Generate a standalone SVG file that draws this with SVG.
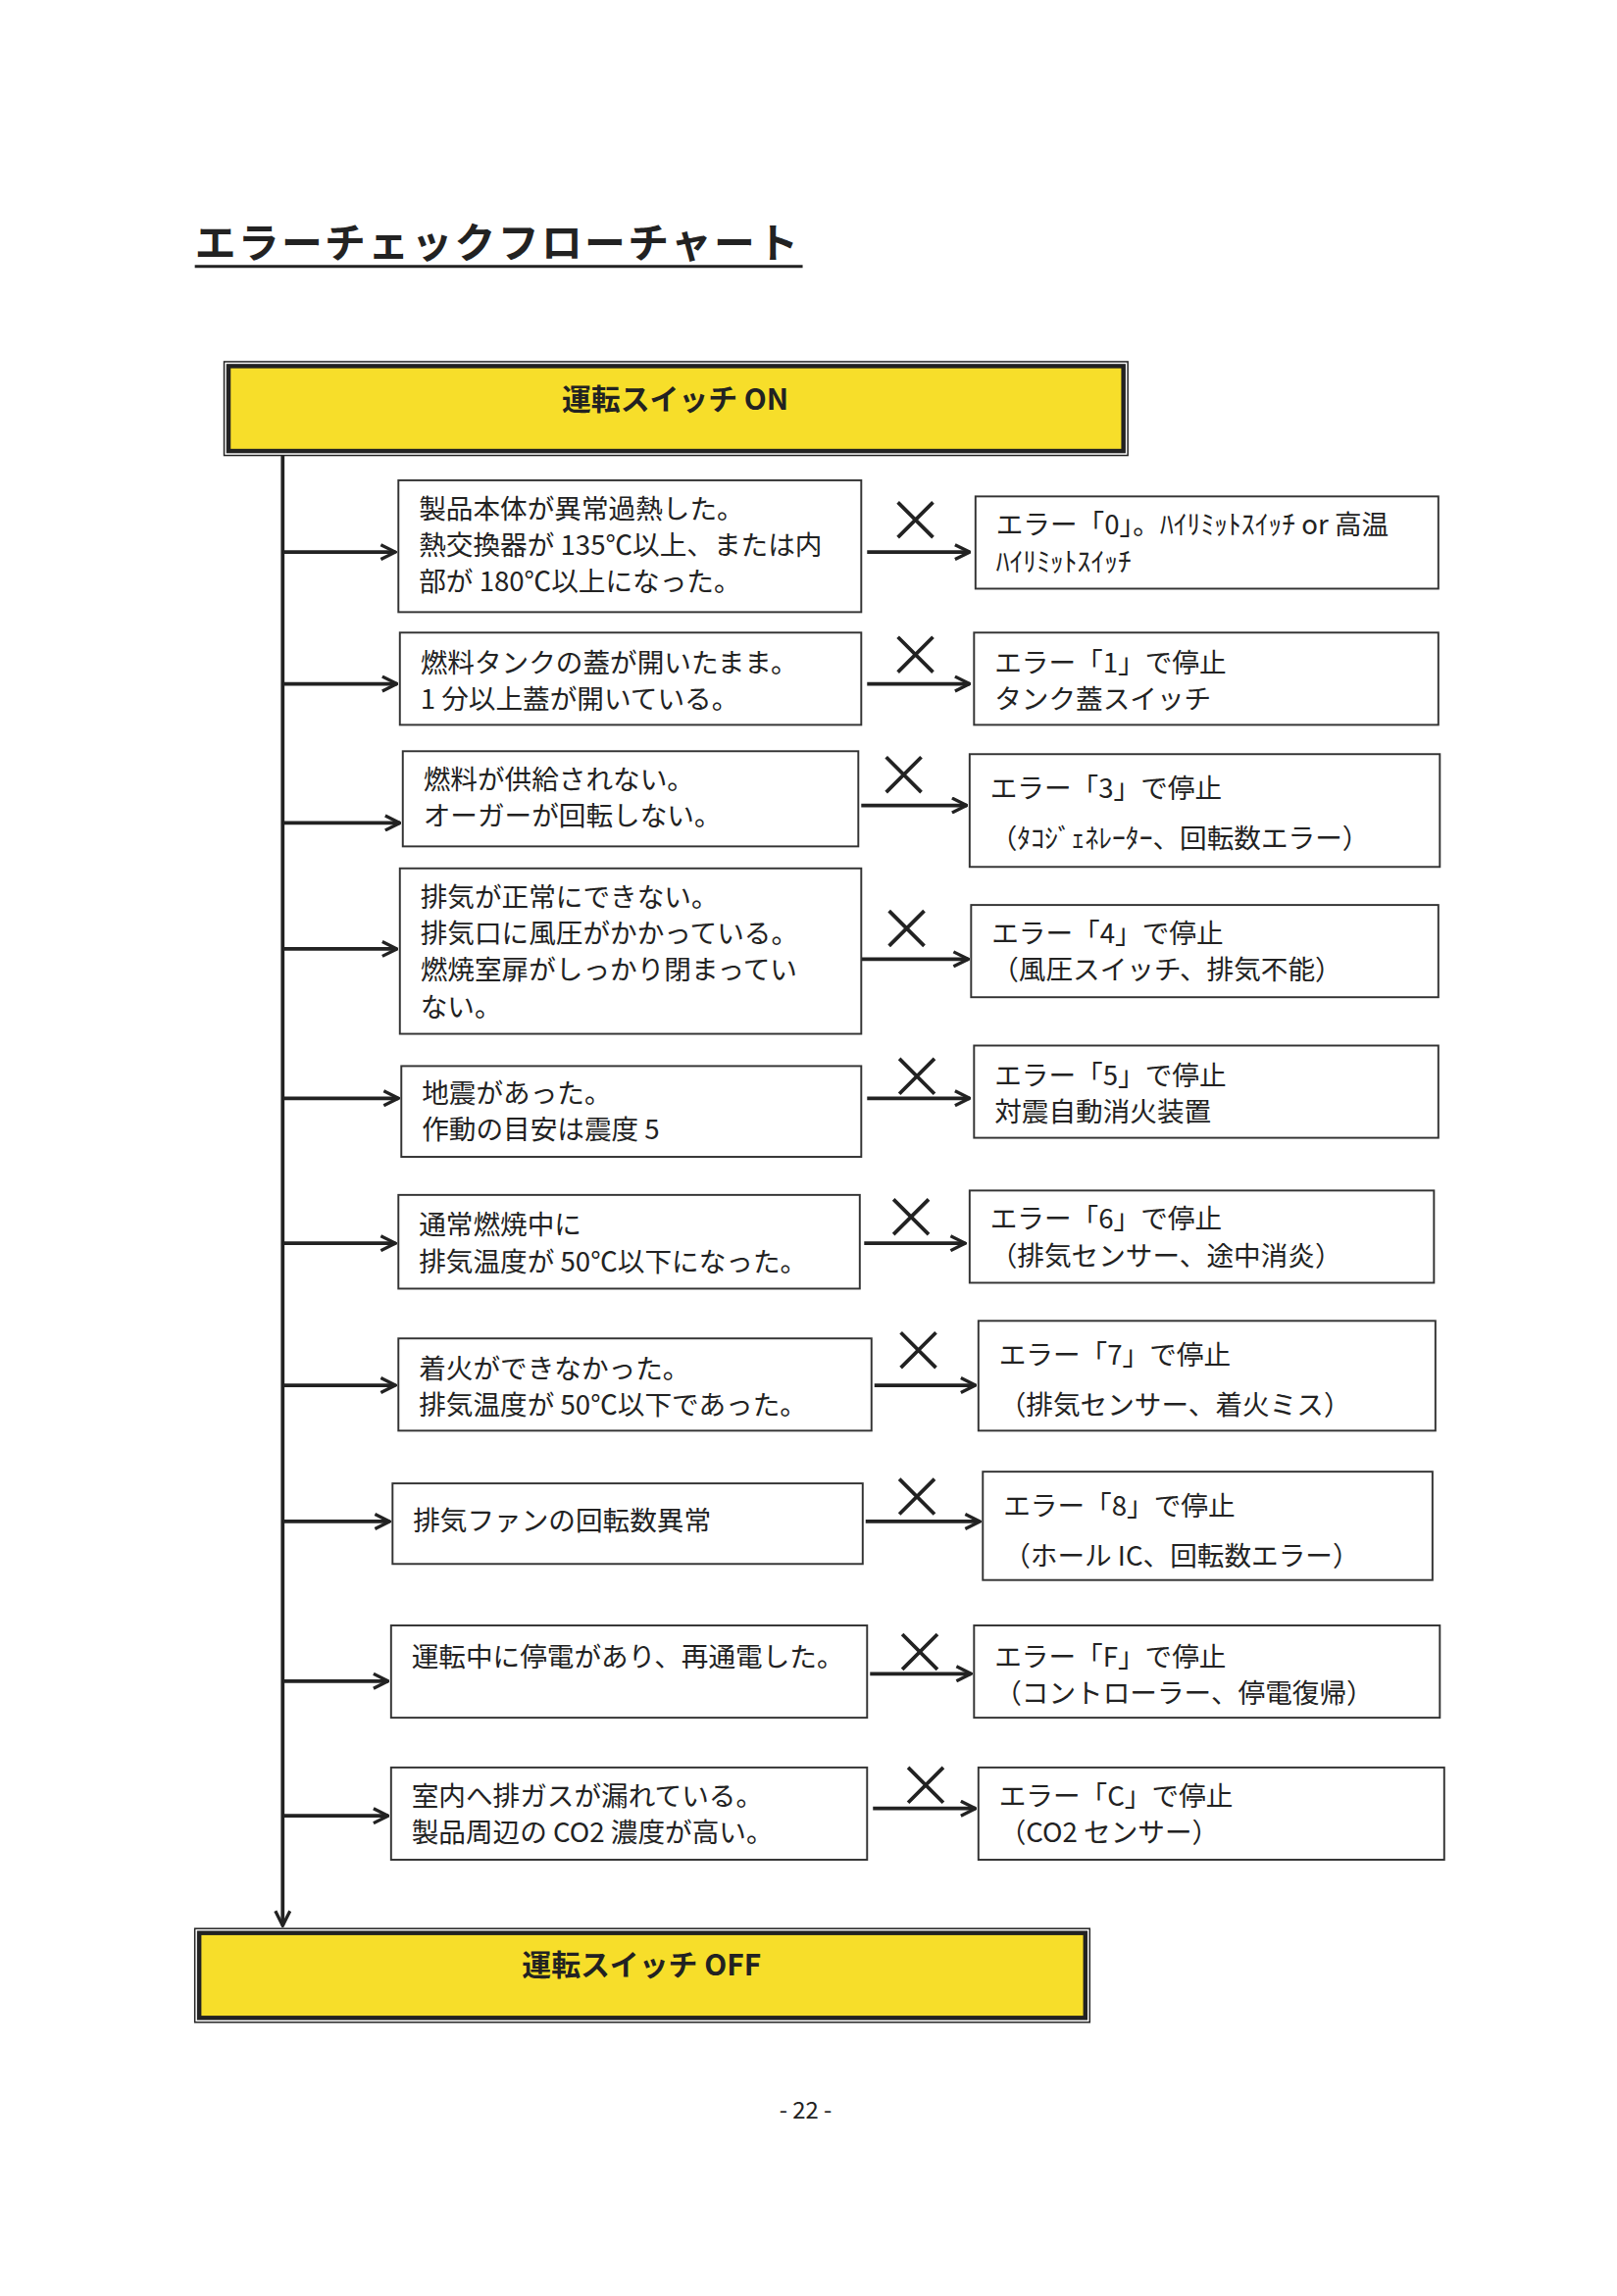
<svg xmlns="http://www.w3.org/2000/svg" width="1649" height="2342" viewBox="0 0 1649 2342">
<style>
text{font-family:"Noto Sans CJK JP","Noto Sans",sans-serif;fill:#222;font-size:18.5px}
.b{fill:#fff;stroke:#333;stroke-width:1.3}
.y{fill:#f7de2a;stroke:#222;stroke-width:3}
.l{stroke:#222;stroke-width:2.5;fill:none}
.x{stroke:#222;stroke-width:2.5}
.t{font-size:20px;font-weight:bold}
</style>
<defs><marker id="m" viewBox="0 0 12 12" refX="11" refY="6" markerWidth="12" markerHeight="12" orient="auto" markerUnits="userSpaceOnUse"><path d="M1,1 L11,6 L1,11" fill="none" stroke="#222" stroke-width="2.2"/></marker></defs>
<rect width="1649" height="2342" fill="#fff"/>
<g transform="scale(1.4937)">
<text x="133" y="176" style="font-size:28px;font-weight:bold" textLength="412">エラーチェックフローチャート</text>
<line x1="133" y1="182" x2="548" y2="182" stroke="#222" stroke-width="2"/>
<g id="start"><rect x="153" y="247" width="617" height="64" fill="none" stroke="#222" stroke-width="1"/><rect class="y" x="156" y="250" width="611" height="58"/><text x="461" y="280" text-anchor="middle" class="t">運転スイッチ ON</text></g>
<g id="end"><rect x="133" y="1317" width="611" height="64" fill="none" stroke="#222" stroke-width="1"/><rect class="y" x="136" y="1320" width="605" height="58"/><text x="438" y="1349" text-anchor="middle" class="t">運転スイッチ OFF</text></g>
<g id="connectors">
<line class="l" x1="193" y1="311" x2="193" y2="1315" marker-end="url(#m)"/>
<g marker-end="url(#m)" class="l">
<line x1="193" y1="377" x2="270" y2="377"/><line x1="193" y1="467" x2="271" y2="467"/><line x1="193" y1="562" x2="273" y2="562"/><line x1="193" y1="648" x2="271" y2="648"/><line x1="193" y1="750" x2="272" y2="750"/><line x1="193" y1="849" x2="270" y2="849"/><line x1="193" y1="946" x2="270" y2="946"/><line x1="193" y1="1039" x2="266" y2="1039"/><line x1="193" y1="1148" x2="265" y2="1148"/><line x1="193" y1="1240" x2="265" y2="1240"/>
<line x1="592" y1="377" x2="662" y2="377"/><line x1="592" y1="467" x2="662" y2="467"/><line x1="588" y1="550" x2="660" y2="550"/><line x1="588" y1="655" x2="661" y2="655"/><line x1="592" y1="750" x2="662" y2="750"/><line x1="590" y1="849" x2="659" y2="849"/><line x1="597" y1="946" x2="666" y2="946"/><line x1="591" y1="1039" x2="669" y2="1039"/><line x1="594" y1="1143" x2="663" y2="1143"/><line x1="596" y1="1235" x2="666" y2="1235"/>
</g>
<g class="x">
<path d="M613,343 L637,367 M637,343 L613,367"/><path d="M613,435 L637,459 M637,435 L613,459"/><path d="M605,517 L629,541 M629,517 L605,541"/><path d="M607,622 L631,646 M631,622 L607,646"/><path d="M614,723 L638,747 M638,723 L614,747"/><path d="M610,819 L634,843 M634,819 L610,843"/><path d="M615,910 L639,934 M639,910 L615,934"/><path d="M614,1010 L638,1034 M638,1010 L614,1034"/><path d="M616,1116 L640,1140 M640,1116 L616,1140"/><path d="M620,1207 L644,1231 M644,1207 L620,1231"/>
</g>
</g>
<g id="c1"><rect class="b" x="272" y="328" width="316" height="90"/><text x="286" y="354">製品本体が異常過熱した。</text><text x="286" y="379">熱交換器が 135℃以上、または内</text><text x="286" y="404">部が 180℃以上になった。</text></g>
<g id="e1"><rect class="b" x="666" y="339" width="316" height="63"/><text x="680" y="365">エラー「0」。ﾊｲﾘﾐｯﾄｽｲｯﾁ or 高温</text><text x="680" y="390">ﾊｲﾘﾐｯﾄｽｲｯﾁ</text></g>
<g id="c2"><rect class="b" x="273" y="432" width="315" height="63"/><text x="287" y="459">燃料タンクの蓋が開いたまま。</text><text x="287" y="484">1 分以上蓋が開いている。</text></g>
<g id="e2"><rect class="b" x="665" y="432" width="317" height="63"/><text x="679" y="459">エラー「1」で停止</text><text x="679" y="484">タンク蓋スイッチ</text></g>
<g id="c3"><rect class="b" x="275" y="513" width="311" height="65"/><text x="289" y="539">燃料が供給されない。</text><text x="289" y="564">オーガーが回転しない。</text></g>
<g id="e3"><rect class="b" x="662" y="515" width="321" height="77"/><text x="676" y="545">エラー「3」で停止</text><text x="676" y="579">（ﾀｺｼﾞｪﾈﾚｰﾀｰ、回転数エラー）</text></g>
<g id="c4"><rect class="b" x="273" y="593" width="315" height="113"/><text x="287" y="619">排気が正常にできない。</text><text x="287" y="644">排気口に風圧がかかっている。</text><text x="287" y="669">燃焼室扉がしっかり閉まってい</text><text x="287" y="694">ない。</text></g>
<g id="e4"><rect class="b" x="663" y="618" width="319" height="63"/><text x="677" y="644">エラー「4」で停止</text><text x="677" y="669">（風圧スイッチ、排気不能）</text></g>
<g id="c5"><rect class="b" x="274" y="728" width="314" height="62"/><text x="288" y="753">地震があった。</text><text x="288" y="778">作動の目安は震度 5</text></g>
<g id="e5"><rect class="b" x="665" y="714" width="317" height="63"/><text x="679" y="741">エラー「5」で停止</text><text x="679" y="766">対震自動消火装置</text></g>
<g id="c6"><rect class="b" x="272" y="816" width="315" height="64"/><text x="286" y="843">通常燃焼中に</text><text x="286" y="868">排気温度が 50℃以下になった。</text></g>
<g id="e6"><rect class="b" x="662" y="813" width="317" height="63"/><text x="676" y="839">エラー「6」で停止</text><text x="676" y="864">（排気センサー、途中消炎）</text></g>
<g id="c7"><rect class="b" x="272" y="914" width="323" height="63"/><text x="286" y="941">着火ができなかった。</text><text x="286" y="966">排気温度が 50℃以下であった。</text></g>
<g id="e7"><rect class="b" x="668" y="902" width="312" height="75"/><text x="682" y="932">エラー「7」で停止</text><text x="682" y="966">（排気センサー、着火ミス）</text></g>
<g id="c8"><rect class="b" x="268" y="1013" width="321" height="55"/><text x="282" y="1045">排気ファンの回転数異常</text></g>
<g id="e8"><rect class="b" x="671" y="1005" width="307" height="74"/><text x="685" y="1035">エラー「8」で停止</text><text x="685" y="1069">（ホール IC、回転数エラー）</text></g>
<g id="c9"><rect class="b" x="267" y="1110" width="325" height="63"/><text x="281" y="1138">運転中に停電があり、再通電した。</text></g>
<g id="e9"><rect class="b" x="665" y="1110" width="318" height="63"/><text x="679" y="1138">エラー「F」で停止</text><text x="679" y="1163">（コントローラー、停電復帰）</text></g>
<g id="c10"><rect class="b" x="267" y="1207" width="325" height="63"/><text x="281" y="1233">室内へ排ガスが漏れている。</text><text x="281" y="1258">製品周辺の CO2 濃度が高い。</text></g>
<g id="e10"><rect class="b" x="668" y="1207" width="318" height="63"/><text x="682" y="1233">エラー「C」で停止</text><text x="682" y="1258">（CO2 センサー）</text></g>
<text x="550" y="1447" text-anchor="middle" style="font-size:16px">- 22 -</text>
</g>
</svg>
